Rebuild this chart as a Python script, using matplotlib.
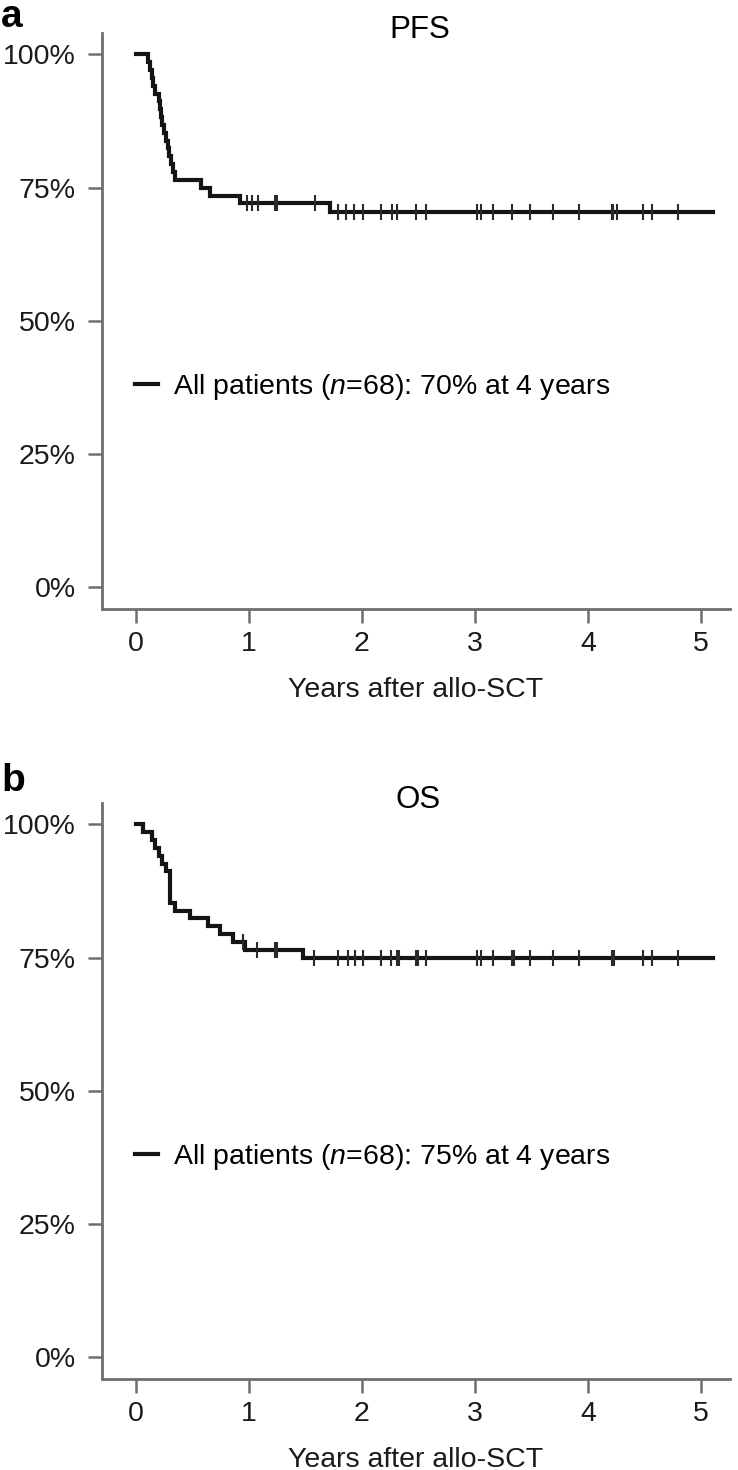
"""
Kaplan-Meier curves (PFS / OS) after allo-SCT, two stacked panels
"""

import numpy as np
import matplotlib
matplotlib.use('Agg')  # no display
import matplotlib.pyplot as plt

plt.rcParams['font.family'] = ['Liberation Sans', 'DejaVu Sans']
plt.rcParams['mathtext.fontset'] = 'custom'
plt.rcParams['mathtext.rm'] = 'Liberation Sans'
plt.rcParams['mathtext.it'] = 'Liberation Sans:italic'

# ---- data ----
# PFS: event times (years) and survival (%) right after each event
pfs_event_years = [0.103, 0.124, 0.139, 0.153, 0.168, 0.206, 0.212, 0.221, 0.233, 0.248,
                   0.263, 0.280, 0.295, 0.310, 0.325, 0.345, 0.58, 0.655, 0.92, 1.72]
pfs_surv = [98.5, 97.1, 95.6, 94.1, 92.6, 91.2, 89.7, 88.2, 86.8, 85.3,
            83.8, 82.4, 80.9, 79.4, 77.9, 76.5, 75.0, 73.5, 72.1, 70.5]
pfs_censor_years = [0.98, 1.03, 1.08, 1.23, 1.245, 1.585,
                    1.79, 1.86, 1.93, 2.01, 2.17, 2.27, 2.31, 2.48, 2.57,
                    3.02, 3.05, 3.16, 3.33, 3.49, 3.69, 3.92, 4.21, 4.22, 4.26,
                    4.49, 4.57, 4.80]
pfs_end_year = 5.11

# OS
os_event_years = [0.059, 0.139, 0.17, 0.20, 0.23, 0.265, 0.298, 0.300, 0.302, 0.304,
                  0.345, 0.478, 0.64, 0.743, 0.861, 0.965, 1.48]
os_surv = [98.5, 97.1, 95.6, 94.1, 92.6, 91.2, 89.7, 88.2, 86.8, 85.3,
           83.8, 82.4, 80.9, 79.4, 77.9, 76.5, 75.0]
os_censor_years = [0.95, 1.07, 1.23, 1.245,
                   1.58, 1.79, 1.88, 1.94, 2.01, 2.17, 2.26, 2.31, 2.33, 2.48, 2.50, 2.57,
                   3.02, 3.05, 3.16, 3.33, 3.35, 3.49, 3.69, 3.92, 4.21, 4.23,
                   4.49, 4.57, 4.80]
os_end_year = 5.11

x_ticks = [0, 1, 2, 3, 4, 5]
y_ticks = [0, 25, 50, 75, 100]
y_tick_labels = ['0%', '25%', '50%', '75%', '100%']

AXIS_GREY = '#6e6e6e'
W, H = 738, 1470


def draw_km(ax, events, surv, censors, end_year, legend_text):
    levels = [100.0] + list(surv)
    xs = [0.0] + list(events) + [end_year]
    ys = levels + [levels[-1]]
    ax.step(xs, ys, where='post', color='#141414', lw=3.0, label=legend_text,
            solid_joinstyle='miter')

    # censor marks sit on the level in force at that time
    idx = np.searchsorted(events, censors, side='right')
    ax.plot(censors, np.array(levels)[idx], ls='none', marker='|', ms=11,
            mew=1.5, color='#2a2a2a')

    ax.set_xlim(-0.30, 5.257)
    ax.set_ylim(-4.1, 104)
    ax.set_xticks(x_ticks)
    ax.set_yticks(y_ticks)
    ax.set_yticklabels(y_tick_labels)

    for side in ('top', 'right'):
        ax.spines[side].set_visible(False)
    for side in ('left', 'bottom'):
        ax.spines[side].set_color(AXIS_GREY)
        ax.spines[side].set_linewidth(2.0)

    ax.tick_params(length=10, width=1.8, color=AXIS_GREY, labelsize=20.5,
                   labelcolor='#1a1a1a')
    ax.tick_params(axis='x', pad=6)
    ax.tick_params(axis='y', pad=9)
    ax.set_xlabel('Years after allo-SCT', fontsize=20.5, color='#1a1a1a', labelpad=14)

    ax.legend(loc='center left', bbox_to_anchor=(0.0525, 0.385), frameon=False,
              fontsize=20.5, handlelength=0.8, handletextpad=0.55, borderpad=0,
              borderaxespad=0)


fig = plt.figure(figsize=(W / 100, H / 100), dpi=100)

# axes boxes in pixels: left 102, right 730; panel a 33..609, panel b 803..1379
ax_a = fig.add_axes([102 / W, (H - 609) / H, 628 / W, 576 / H])
ax_b = fig.add_axes([102 / W, (H - 1379) / H, 628 / W, 576 / H])

draw_km(ax_a, pfs_event_years, pfs_surv, pfs_censor_years, pfs_end_year,
        r'All patients ($\mathit{n}$=68): 70% at 4 years')
draw_km(ax_b, os_event_years, os_surv, os_censor_years, os_end_year,
        r'All patients ($\mathit{n}$=68): 75% at 4 years')

fig.text(420 / W, 1 - 38 / H, 'PFS', ha='center', va='baseline', fontsize=22.5)
fig.text(418 / W, 1 - 808 / H, 'OS', ha='center', va='baseline', fontsize=22.5)
fig.text(1 / W, 1 - 27 / H, 'a', ha='left', va='baseline', fontsize=28,
         fontweight='bold')
fig.text(1 / W, 1 - 791 / H, 'b', ha='left', va='baseline', fontsize=28,
         fontweight='bold')

fig.savefig('out.png', dpi=100)
plt.close(fig)
